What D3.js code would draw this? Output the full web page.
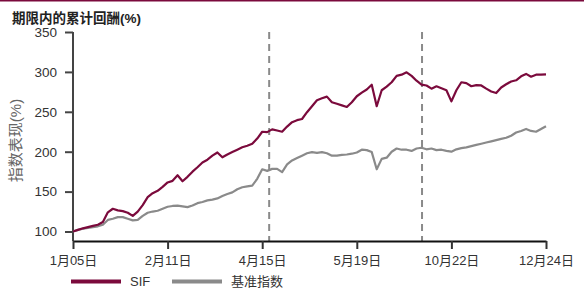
<!DOCTYPE html>
<html>
<head>
<meta charset="utf-8">
<script src="https://cdn.jsdelivr.net/npm/d3@7"></script>
<style>
  html, body { margin: 0; padding: 0; background: #fff; }
  svg text { font-family: "Liberation Sans", Arial, "Noto Sans CJK SC", sans-serif; }
</style>
</head>
<body>
<div id="container"></div>
<script>
// values, one sample roughly every 5px of the plot
const sif = [100,102,104,105.5,107,108.5,112,124,128.5,126.5,125.5,123.5,119.5,125,133,143,148,151,156,161.5,
  163.5,170.5,163,168.5,175,180.5,186.5,190,195,199,193,196.5,199.5,202.5,205.5,207.5,210,216.5,225,224.5,
  228,226.5,225,231.5,237,239.5,241,249.5,257,264.5,267,269,262,260,258,256,262,269.5,274,278,
  284,257,277,281.5,287,295,296.5,299.5,295,289,284,283,279,282,279.5,277,263,277,287,286,
  282,283.5,283,279,275.5,273.5,280.5,284.5,288,289.5,294.5,297.5,294,296.5,296.5,297]

const bench = [100,102,103.5,104.5,105.5,106.5,108.5,114.5,116,118,118,116,114,114.5,119.5,123.5,125,126,128.5,131,
  132,132.5,131.5,130.5,132.5,135.5,137,139,140,141.5,144.5,147,149,153,155.5,156.5,157.5,166,178,176,
  178.5,178.5,174.5,184,189,192,195,198,199.5,198.5,199.5,198,195,195,196,196.5,197.5,199,202.5,202,
  199.5,178,191,192.5,200,204,202.5,202.5,201,204,205,203,204,202,202.5,201,200,203,204.5,205.5,
  207,208.5,210,211.5,213,214.5,216,217.5,220,224,226,228.5,226,225,228.5,232]

const tickIdx = [0, 19, 38, 57, 76, 95]
const tickLabels = ["1月05日", "2月11日", "4月15日", "5月19日", "10月22日", "12月24日"]
const yTicks = [100, 150, 200, 250, 300, 350]
const markers = [39.4, 70.1]   // dashed verticals, in sample index
const seriesNames = ["SIF", "基准指数"]
const seriesColors = ["#7b0a3c", "#8a8a8a"]

const width = 584
const height = 288
const mLeft = 73, mRight = 546, mTop = 32, mBottom = 241

const svg = d3.select("#container").append("svg")
  .attr("width", width).attr("height", height)

svg.append("line")
  .attr("x1", 0).attr("x2", width).attr("y1", 0.75).attr("y2", 0.75)
  .attr("stroke", "#7b0a3c").attr("stroke-width", 1.5)

const x = d3.scaleLinear().domain([0, sif.length - 1]).range([mLeft, mRight])
const y = d3.scaleLinear().domain([88.1, 350]).range([mBottom, mTop])

svg.append("text")
  .attr("x", 12).attr("y", 23)
  .attr("font-size", 13.5).attr("font-weight", "bold").attr("fill", "#222")
  .text("期限内的累计回酬(%)")

svg.append("text")
  .attr("transform", `translate(21,${(mTop + mBottom) / 2 + 4}) rotate(-90)`)
  .attr("text-anchor", "middle")
  .attr("font-size", 15).attr("fill", "#666")
  .text("指数表现(%)")

// dashed markers
svg.append("g").selectAll("line")
  .data(markers).enter().append("line")
  .attr("x1", d => x(d)).attr("x2", d => x(d))
  .attr("y1", mTop).attr("y2", mBottom)
  .attr("stroke", "#8a8a8a").attr("stroke-width", 2)
  .attr("stroke-dasharray", "7,5")

// y axis
const yAxis = svg.append("g")
  .attr("transform", `translate(${mLeft},0)`)
  .call(d3.axisLeft(y).tickValues(yTicks).tickSize(8).tickPadding(8))
yAxis.select(".domain").attr("d", `M0,${mTop}V${mBottom}`).attr("stroke", "#444").attr("stroke-width", 2)
yAxis.selectAll(".tick line").attr("stroke", "#444").attr("stroke-width", 2)
yAxis.selectAll(".tick text").attr("font-size", 13.5).attr("fill", "#333")
  .attr("font-family", "\"Liberation Sans\", Arial, sans-serif")

// x axis
const xAxis = svg.append("g")
  .attr("transform", `translate(0,${mBottom})`)
  .call(d3.axisBottom(x).tickValues(tickIdx).tickFormat((d, i) => tickLabels[i]).tickSize(8).tickSizeOuter(0).tickPadding(7))
xAxis.select(".domain").attr("stroke", "#111").attr("stroke-width", 2)
xAxis.selectAll(".tick line").attr("stroke", "#333").attr("stroke-width", 2)
xAxis.selectAll(".tick text").attr("font-size", 13).attr("fill", "#333")

const line = d3.line().x((d, i) => x(i)).y(d => y(d)).curve(d3.curveLinear)

svg.append("path").datum(bench)
  .attr("d", line).attr("fill", "none")
  .attr("stroke", seriesColors[1]).attr("stroke-width", 2.2).attr("stroke-linejoin", "round")

svg.append("path").datum(sif)
  .attr("d", line).attr("fill", "none")
  .attr("stroke", seriesColors[0]).attr("stroke-width", 2.2).attr("stroke-linejoin", "round")

// legend
const legend = svg.append("g").selectAll("g")
  .data(seriesNames).enter().append("g")
  .attr("transform", (d, i) => `translate(${71 + i * 101},281.5)`)
legend.append("line")
  .attr("x1", 0).attr("x2", 50).attr("y1", 0).attr("y2", 0)
  .attr("stroke", (d, i) => seriesColors[i]).attr("stroke-width", 4)
legend.append("text")
  .attr("x", 59).attr("y", 4.5)
  .attr("font-size", 13).attr("fill", "#333")
  .text(d => d)
</script>
</body>
</html>
